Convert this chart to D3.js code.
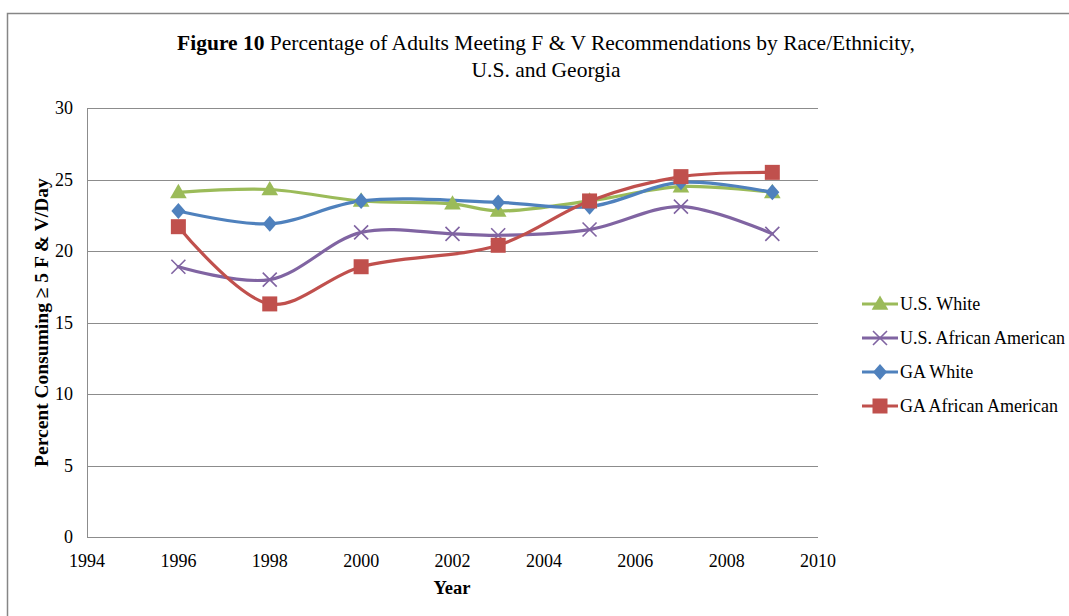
<!DOCTYPE html>
<html>
<head>
<meta charset="utf-8">
<script src="https://cdn.jsdelivr.net/npm/d3@7"></script>
<style>
  html, body { margin: 0; padding: 0; background: #fff; }
  svg { display: block; }
  svg text { font-family: "Liberation Serif", "Times New Roman", "DejaVu Serif", serif; fill: #000; }
</style>
</head>
<body>
<svg id="chart" width="1069" height="616"></svg>
<script>
// Survey years for each source
const usYears = [1996, 1998, 2000, 2002, 2003, 2005, 2007, 2009];
const gaYears = [1996, 1998, 2000, 2003, 2005, 2007, 2009];

// Percent consuming >= 5 servings of fruits & vegetables per day
const usWhite = [24.1, 24.3, 23.5, 23.3, 22.8, 23.5, 24.5, 24.1];
const usAfricanAmerican = [18.9, 18.0, 21.3, 21.2, 21.1, 21.5, 23.1, 21.2];
const gaWhite = [22.8, 21.9, 23.5, 23.4, 23.1, 24.8, 24.1];
const gaAfricanAmerican = [21.7, 16.3, 18.9, 20.4, 23.5, 25.2, 25.5];

const xTicks = [1994, 1996, 1998, 2000, 2002, 2004, 2006, 2008, 2010];
const yTicks = [0, 5, 10, 15, 20, 25, 30];

const seriesNames = ["U.S. White", "U.S. African American", "GA White", "GA African American"];

const series = [
  { name: seriesNames[0], years: usYears, values: usWhite, color: "#9BBB59", marker: "triangle" },
  { name: seriesNames[1], years: usYears, values: usAfricanAmerican, color: "#8064A2", marker: "x" },
  { name: seriesNames[2], years: gaYears, values: gaWhite, color: "#4F81BD", marker: "diamond" },
  { name: seriesNames[3], years: gaYears, values: gaAfricanAmerican, color: "#C0504D", marker: "square" }
];

const svg = d3.select("#chart");

// Outer chart frame (left and top edges visible)
svg.append("path")
  .attr("d", "M7.5,640 V13.5 H1100")
  .attr("fill", "none")
  .attr("stroke", "#868686")
  .attr("stroke-width", 1.5);

const plot = { left: 87, right: 818, top: 108, bottom: 537 };

const x = d3.scaleLinear().domain([1994, 2010]).range([plot.left, plot.right]);
const y = d3.scaleLinear().domain([0, 30]).range([plot.bottom, plot.top]);

// Horizontal gridlines
svg.append("g")
  .selectAll("line")
  .data(yTicks)
  .join("line")
  .attr("x1", plot.left)
  .attr("x2", plot.right)
  .attr("y1", d => Math.round(y(d)) + 0.5)
  .attr("y2", d => Math.round(y(d)) + 0.5)
  .attr("stroke", "#8c8c8c")
  .attr("stroke-width", 1);

// Vertical axis line
svg.append("line")
  .attr("x1", plot.left + 0.5).attr("x2", plot.left + 0.5)
  .attr("y1", plot.top).attr("y2", plot.bottom + 0.5)
  .attr("stroke", "#8c8c8c");

// Y tick labels
svg.append("g")
  .selectAll("text")
  .data(yTicks)
  .join("text")
  .attr("x", 73)
  .attr("y", d => y(d))
  .attr("dy", "0.35em")
  .attr("text-anchor", "end")
  .attr("font-size", 18)
  .text(d => d);

// X tick labels
svg.append("g")
  .selectAll("text")
  .data(xTicks)
  .join("text")
  .attr("x", d => x(d))
  .attr("y", 567)
  .attr("text-anchor", "middle")
  .attr("font-size", 18)
  .text(d => d);

// Axis titles
svg.append("text")
  .attr("x", 452)
  .attr("y", 594)
  .attr("text-anchor", "middle")
  .attr("font-size", 18.5)
  .attr("font-weight", "bold")
  .text("Year");

svg.append("text")
  .attr("transform", `translate(48,${(plot.top + plot.bottom) / 2}) rotate(-90)`)
  .attr("text-anchor", "middle")
  .attr("font-size", 19.5)
  .attr("font-weight", "bold")
  .text("Percent Consuming \u2265 5  F & V/Day");

// Title
const title = svg.append("text")
  .attr("x", 546)
  .attr("y", 50)
  .attr("text-anchor", "middle")
  .attr("font-size", 21.5);
title.append("tspan").attr("font-weight", "bold").text("Figure 10");
title.append("tspan").text(" Percentage of Adults Meeting F & V Recommendations by Race/Ethnicity,");
svg.append("text")
  .attr("x", 546)
  .attr("y", 77)
  .attr("text-anchor", "middle")
  .attr("font-size", 21.5)
  .text("U.S.  and Georgia");

// Marker drawing
function drawMarker(g, type, color) {
  if (type === "triangle") {
    g.append("path").attr("d", d3.symbol().type(d3.symbolTriangle).size(120)())
      .attr("transform", "translate(0,1)")
      .attr("fill", color);
  } else if (type === "diamond") {
    g.append("path").attr("d", "M0,-8 L7,0 L0,8 L-7,0 Z")
      .attr("fill", color);
  } else if (type === "square") {
    g.append("rect").attr("x", -7.5).attr("y", -7.5).attr("width", 15).attr("height", 15)
      .attr("fill", color);
  } else if (type === "x") {
    g.append("path").attr("d", "M-7,-7 L7,7 M-7,7 L7,-7")
      .attr("stroke", color).attr("stroke-width", 1.6).attr("fill", "none");
  }
}

const line = d3.line()
  .x(d => x(d[0]))
  .y(d => y(d[1]))
  .curve(d3.curveCatmullRom.alpha(0.5));

series.forEach(s => {
  const pts = s.years.map((yr, i) => [yr, s.values[i]]);
  svg.append("path")
    .datum(pts)
    .attr("d", line)
    .attr("fill", "none")
    .attr("stroke", s.color)
    .attr("stroke-width", 3.2)
    .attr("stroke-linecap", "round");
});

series.forEach(s => {
  const pts = s.years.map((yr, i) => [yr, s.values[i]]);
  pts.forEach(p => {
    const g = svg.append("g").attr("transform", `translate(${x(p[0])},${y(p[1])})`);
    drawMarker(g, s.marker, s.color);
  });
});

// Legend
const legend = svg.append("g");
series.forEach((s, i) => {
  const ly = 304 + i * 34;
  const row = legend.append("g").attr("transform", `translate(0,${ly})`);
  row.append("line")
    .attr("x1", 862).attr("x2", 898)
    .attr("y1", 0).attr("y2", 0)
    .attr("stroke", s.color).attr("stroke-width", 3.2);
  const m = row.append("g").attr("transform", "translate(880,0)");
  drawMarker(m, s.marker, s.color);
  row.append("text")
    .attr("x", 900)
    .attr("y", 0)
    .attr("dy", "0.35em")
    .attr("font-size", 18)
    .text(s.name);
});
</script>
</body>
</html>
